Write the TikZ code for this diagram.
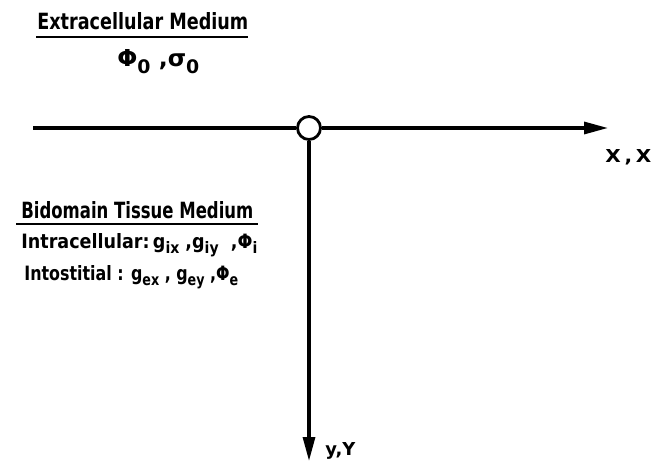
\documentclass[tikz,border=0pt]{standalone}
\usepackage{fontspec}
\setmainfont{DejaVu Sans Condensed}
\usetikzlibrary{arrows.meta, positioning, calc}
\newcommand{\lo}[1]{\raisebox{-0.5ex}{\footnotesize #1}}
\newcommand{\fitbox}[3]{\resizebox{#1}{#2}{\bfseries #3}}

\begin{document}
\begin{tikzpicture}[
  x=0.02cm, y=-0.02cm,
  axis/.style  = {line width=1.8pt, black},
  tip/.style   = {-{Triangle[length=0.48cm, width=0.24cm]}},
  lbl/.style   = {anchor=base west, inner sep=0pt},
  rule/.style  = {line width=1.2pt},
]
\useasboundingbox (0,0) rectangle (661,462);
% Origin and axes
\node[circle, draw, line width=1.6pt, minimum width=0.46cm, minimum height=0.44cm,
      inner sep=0pt] (orig) at (309,128) {};
\coordinate (xstart) at (33,128);
\coordinate (xend)   at (608,128);
\coordinate (yend)   at (309,461);
\draw[axis]      (xstart)    -- (orig.west);
\draw[axis, tip] (orig.east) -- (xend);
\draw[axis, tip] (orig.south) -- (yend);
% Axis labels
\node[lbl] (xlbl) at (605,163) {\fitbox{0.92cm}{0.26cm}{X\,,\,X}};
\node[lbl] (ylbl) at (325,455) {\fitbox{0.60cm}{0.26cm}{y,Y}};
% Extracellular medium
\node[lbl] (ext)  at (37,30)  {\fitbox{4.22cm}{0.34cm}{Extracellular Medium}};
\draw[rule] (36,37) -- (248,37);
\node[lbl] (extv) at (117,67) {\fitbox{1.64cm}{0.34cm}{Φ\lo{0} ,σ\lo{0}}};
% Bidomain tissue
\node[lbl] (bido)  at (21,218) {\fitbox{4.64cm}{0.34cm}{Bidomain Tissue Medium}};
\draw[rule] (16,224) -- (258,224);
\node[lbl] (intra) at (21,248) {\fitbox{4.72cm}{0.30cm}{Intracellular:\,g\lo{ix} ,g\lo{iy} \ ,Φ\lo{i}}};
\node[lbl] (inter) at (24,280) {\fitbox{4.28cm}{0.30cm}{Intostitial : g\lo{ex} , g\lo{ey} ,Φ\lo{e}}};
\end{tikzpicture}
\end{document}
